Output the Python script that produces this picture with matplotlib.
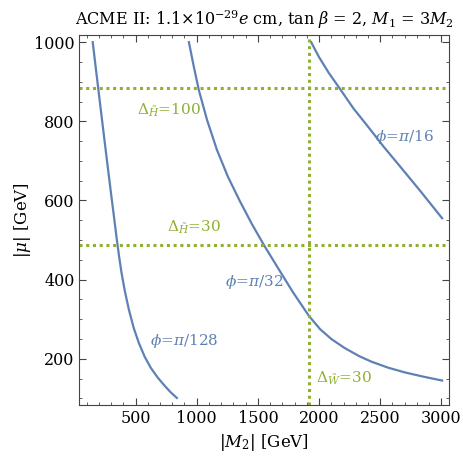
import matplotlib
matplotlib.use('Agg')
import matplotlib.pyplot as plt
from matplotlib.ticker import MultipleLocator

plt.rcParams['font.family'] = ['DejaVu Serif']
plt.rcParams['mathtext.fontset'] = 'dejavuserif'

blue = '#5e81b5'
green = '#8fb032'

# contour lines, |M2| vs |mu| (GeV)
m2_pi128 = [150, 180, 210, 240, 270, 300, 325, 345, 365, 385, 412, 445, 485, 527, 575, 625, 680, 732, 785, 838]
mu_pi128 = [1000, 922, 845, 768, 692, 617, 556, 506, 460, 418, 372, 325, 278, 240, 205, 177, 153, 134, 116, 101]

m2_pi32 = [936, 977, 1018, 1084, 1165, 1255, 1350, 1450, 1550, 1673, 1787, 1918, 2008,
           2100, 2205, 2326, 2426, 2560, 2696, 2850, 3006]
mu_pi32 = [1000, 937, 878, 804, 728, 660, 600, 541, 487, 425, 368, 308, 275,
           250, 228, 207, 193, 178, 166, 155, 145]

m2_pi16 = [1935, 2000, 2080, 2164, 2280, 2409, 2530, 2654, 2830, 3006]
mu_pi16 = [1000, 962, 922, 885, 833, 783, 735, 689, 623, 555]

# Delta constraints
dH_100 = 885
dH_30 = 487
dW_30 = 1920

fig = plt.figure(figsize=(4.63, 4.57), dpi=100)
ax = fig.add_axes([0.1717, 0.1127, 0.797, 0.8107])

for xs, ys in [(m2_pi128, mu_pi128), (m2_pi32, mu_pi32), (m2_pi16, mu_pi16)]:
    ax.plot(xs, ys, color=blue, lw=1.6, solid_joinstyle='round')

ax.axhline(dH_100, color=green, lw=2.2, ls=(0, (1, 1.2)))
ax.axhline(dH_30, color=green, lw=2.2, ls=(0, (1, 1.2)))
ax.axvline(dW_30, color=green, lw=2.2, ls=(0, (1, 1.2)))

ax.text(773, 829, r'$\Delta_{\tilde{H}}$=100', color=green, fontsize=11, ha='center', va='center')
ax.text(978, 532, r'$\Delta_{\tilde{H}}$=30', color=green, fontsize=11, ha='center', va='center')
ax.text(2205, 150, r'$\Delta_{\tilde{W}}$=30', color=green, fontsize=11, ha='center', va='center')
ax.text(2700, 760, r'$\phi$=$\pi$/16', color=blue, fontsize=11, ha='center', va='center')
ax.text(1470, 395, r'$\phi$=$\pi$/32', color=blue, fontsize=11, ha='center', va='center')
ax.text(895, 245, r'$\phi$=$\pi$/128', color=blue, fontsize=11, ha='center', va='center')

ax.set_xlim(42, 3058)
ax.set_ylim(82, 1018)
ax.xaxis.set_major_locator(MultipleLocator(500))
ax.xaxis.set_minor_locator(MultipleLocator(100))
ax.yaxis.set_major_locator(MultipleLocator(200))
ax.yaxis.set_minor_locator(MultipleLocator(50))
ax.tick_params(which='both', direction='in', top=True, right=True, labelsize=11.5,
               colors='#444444', labelcolor='black')
ax.tick_params(which='major', length=5)
ax.tick_params(which='minor', length=2.5)
for s in ax.spines.values():
    s.set_color('#444444')

ax.set_xlabel(r'$|M_2|$ [GeV]', fontsize=12, labelpad=3)
ax.set_ylabel(r'$|\mu|$ [GeV]', fontsize=12, labelpad=1)
ax.set_title(r'ACME II: 1.1$\times$10$^{-29}$$e$ cm, tan $\beta$ = 2, $M_1$ = 3$M_2$', fontsize=11.5, pad=7)

fig.savefig('out.png', dpi=100)
